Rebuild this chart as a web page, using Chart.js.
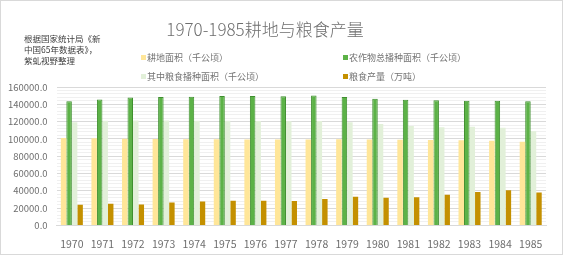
<!DOCTYPE html>
<html>
<head>
<meta charset="utf-8">
<script src="https://cdn.jsdelivr.net/npm/chart.js@4/dist/chart.umd.min.js"></script>
<style>
  html, body { margin: 0; padding: 0; background: #fff; }
  #wrap { position: relative; width: 561px; height: 253px; border: 1px solid #d9d9d9; }
</style>
</head>
<body>
<div id="wrap"><canvas id="chart" width="561" height="253"></canvas></div>
<script>
// data
const years = ['1970','1971','1972','1973','1974','1975','1976','1977','1978','1979','1980','1981','1982','1983','1984','1985'];
const arableLand = [101135, 100700, 100300, 100000, 99700, 99708, 99400, 99200, 99389, 99500, 99305, 99000, 98600, 98400, 97900, 96846];
const totalSown = [143487, 145682, 147919, 148548, 148635, 149545, 149723, 149333, 150104, 148477, 146380, 145157, 144755, 143993, 144221, 143626];
const grainSown = [119267, 120846, 121209, 121156, 120976, 121062, 120743, 120400, 120587, 119263, 117234, 114958, 113463, 114047, 112884, 108845];
const grainOutput = [23996, 25014, 24048, 26494, 27527, 28452, 28631, 28273, 30477, 33212, 32056, 32502, 35450, 38728, 40731, 37911];

const seriesNames = ['耕地面积（千公顷）', '农作物总播种面积（千公顷）', '其中粮食播种面积（千公顷）', '粮食产量（万吨）'];
const seriesColors = ['#ffe699', '#5cb247', '#e2f0d9', '#c49000'];

const FONT = '"Noto Sans CJK SC", "Noto Sans", sans-serif';

// title, source note and two-column legend
const decor = {
    id: 'decor',
    afterDraw(chart) {
        const ctx = chart.ctx;
        ctx.save();
        ctx.textBaseline = 'middle';

        ctx.fillStyle = '#6e6e6e';
        ctx.font = '300 17px ' + FONT;
        ctx.textAlign = 'center';
        ctx.fillText('1970-1985耕地与粮食产量', 264, 29);

        ctx.textAlign = 'left';
        ctx.fillStyle = '#404040';
        ctx.font = '8.5px ' + FONT;
        ['根据国家统计局《新', '中国65年数据表》，', '紫虬视野整理'].forEach((t, i) => {
            ctx.fillText(t, 23, 37.5 + i * 11);
        });

        const pos = [[140, 57], [342, 57], [140, 76], [342, 76]];
        ctx.font = '9px ' + FONT;
        seriesNames.forEach((name, i) => {
            const [x, y] = pos[i];
            ctx.fillStyle = seriesColors[i];
            ctx.fillRect(x, y - 3, 5, 5);
            ctx.fillStyle = '#737373';
            ctx.fillText(name, x + 6, y);
        });
        ctx.restore();
    }
};

new Chart(document.getElementById('chart'), {
    type: 'bar',
    data: {
        labels: years,
        datasets: [
            { label: seriesNames[0], data: arableLand, backgroundColor: seriesColors[0] },
            { label: seriesNames[1], data: totalSown, backgroundColor: seriesColors[1], borderColor: '#3f8f2f', borderWidth: 1 },
            { label: seriesNames[2], data: grainSown, backgroundColor: seriesColors[2] },
            { label: seriesNames[3], data: grainOutput, backgroundColor: seriesColors[3] }
        ]
    },
    options: {
        responsive: false,
        animation: false,
        layout: { padding: { top: 86, right: 16, bottom: 0, left: -2 } },
        datasets: { bar: { categoryPercentage: 0.72, barPercentage: 1.0 } },
        plugins: { legend: { display: false }, title: { display: false }, tooltip: { enabled: false } },
        scales: {
            x: {
                grid: { display: false },
                border: { color: '#d9d9d9' },
                ticks: { color: '#6e6e6e', font: { family: FONT, size: 10.5 }, padding: 4, maxRotation: 0, minRotation: 0, autoSkip: false }
            },
            y: {
                min: 0,
                max: 160000,
                border: { display: false },
                grid: {
                    color: c => (c.tick && c.tick.value % 20000 === 0) ? '#d9d9d9' : '#f0f0f0',
                    drawTicks: false
                },
                ticks: {
                    stepSize: 4000,
                    autoSkip: false,
                    padding: 9,
                    color: '#6e6e6e',
                    font: { family: FONT, size: 9.5 },
                    callback: v => (v % 20000 === 0) ? v.toFixed(1) : ''
                }
            }
        }
    },
    plugins: [decor]
});
</script>
</body>
</html>
